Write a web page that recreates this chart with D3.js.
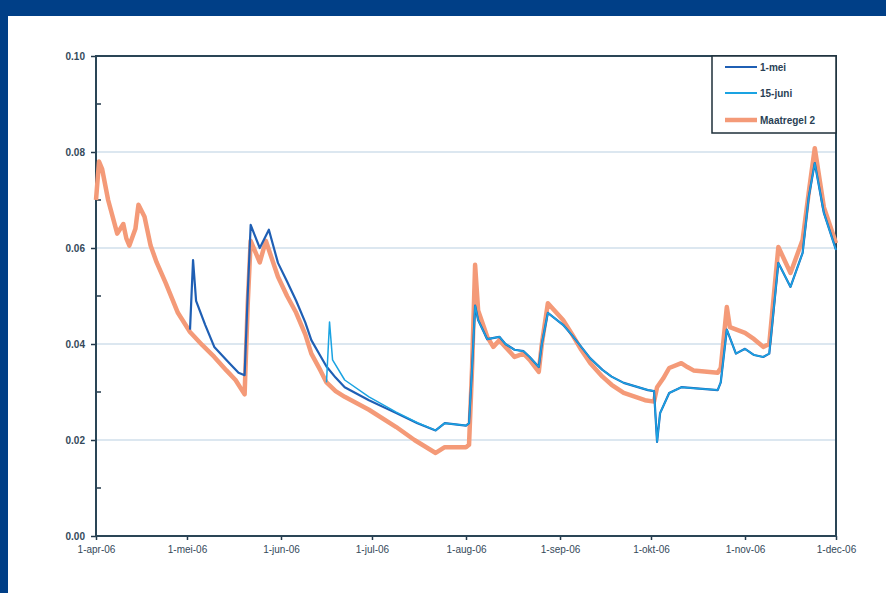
<!DOCTYPE html>
<html>
<head>
<meta charset="utf-8">
<script src="https://cdn.jsdelivr.net/npm/d3@7"></script>
<style>
  html, body { margin: 0; padding: 0; background: #ffffff; }
  svg { display: block; }
  text { font-family: "Liberation Sans", Arial, sans-serif; }
</style>
</head>
<body>
<svg id="chart" width="886" height="593"></svg>
<script>
// ---- data ----
const xTickLabels = ["1-apr-06","1-mei-06","1-jun-06","1-jul-06","1-aug-06","1-sep-06","1-okt-06","1-nov-06","1-dec-06"];
const xTickDates = ["2006-04-01","2006-05-01","2006-06-01","2006-07-01","2006-08-01","2006-09-01","2006-10-01","2006-11-01","2006-12-01"];
const yTicks = [0, 0.02, 0.04, 0.06, 0.08, 0.10];
const seriesNames = ["1-mei", "15-juni", "Maatregel 2"];

const maatregelDates = ["2006-04-01","2006-04-02","2006-04-03","2006-04-05","2006-04-08","2006-04-10","2006-04-11","2006-04-12","2006-04-14","2006-04-15","2006-04-17","2006-04-19","2006-04-21","2006-04-24","2006-04-28","2006-05-02","2006-05-06","2006-05-10","2006-05-14","2006-05-17","2006-05-20","2006-05-21","2006-05-22","2006-05-25","2006-05-27","2006-05-31","2006-06-03","2006-06-06","2006-06-09","2006-06-11","2006-06-14","2006-06-16","2006-06-19","2006-06-22","2006-06-30","2006-07-09","2006-07-15","2006-07-22","2006-07-25","2006-08-01","2006-08-02","2006-08-03","2006-08-04","2006-08-05","2006-08-08","2006-08-10","2006-08-12","2006-08-14","2006-08-17","2006-08-20","2006-08-22","2006-08-25","2006-08-26","2006-08-28","2006-09-02","2006-09-05","2006-09-08","2006-09-11","2006-09-15","2006-09-18","2006-09-22","2006-09-29","2006-10-02","2006-10-03","2006-10-05","2006-10-07","2006-10-11","2006-10-13","2006-10-15","2006-10-23","2006-10-24","2006-10-26","2006-10-27","2006-11-01","2006-11-04","2006-11-07","2006-11-09","2006-11-12","2006-11-16","2006-11-20","2006-11-22","2006-11-24","2006-11-27","2006-12-01"];
const maatregelValues = [0.0700,0.0780,0.0765,0.0700,0.0630,0.0650,0.0620,0.0605,0.0640,0.0690,0.0665,0.0605,0.0570,0.0527,0.0465,0.0425,0.0398,0.0373,0.0345,0.0325,0.0295,0.0480,0.0615,0.0570,0.0615,0.0540,0.0500,0.0465,0.0420,0.0380,0.0345,0.0320,0.0302,0.0290,0.0263,0.0227,0.0200,0.0173,0.0185,0.0185,0.0190,0.0350,0.0565,0.0470,0.0415,0.0394,0.0408,0.0394,0.0373,0.0380,0.0367,0.0342,0.0400,0.0485,0.0450,0.0420,0.0388,0.0360,0.0332,0.0315,0.0298,0.0283,0.0280,0.0310,0.0328,0.0350,0.0360,0.0352,0.0345,0.0340,0.0350,0.0477,0.0435,0.0423,0.0410,0.0394,0.0400,0.0602,0.0548,0.0617,0.0715,0.0808,0.0685,0.0610];

const meiDates = ["2006-05-02","2006-05-03","2006-05-04","2006-05-07","2006-05-10","2006-05-15","2006-05-18","2006-05-20","2006-05-21","2006-05-22","2006-05-25","2006-05-28","2006-05-31","2006-06-03","2006-06-06","2006-06-09","2006-06-11","2006-06-14","2006-06-16","2006-06-19","2006-06-22","2006-06-30","2006-07-09","2006-07-16","2006-07-22","2006-07-25","2006-08-01","2006-08-02","2006-08-03","2006-08-04","2006-08-05","2006-08-08","2006-08-12","2006-08-14","2006-08-17","2006-08-20","2006-08-22","2006-08-25","2006-08-26","2006-08-28","2006-09-02","2006-09-05","2006-09-08","2006-09-11","2006-09-15","2006-09-18","2006-09-22","2006-09-30","2006-10-02","2006-10-03","2006-10-04","2006-10-07","2006-10-11","2006-10-15","2006-10-23","2006-10-24","2006-10-26","2006-10-29","2006-11-01","2006-11-04","2006-11-07","2006-11-09","2006-11-12","2006-11-16","2006-11-20","2006-11-22","2006-11-24","2006-11-27","2006-12-01"];
const meiValues = [0.0430,0.0575,0.0490,0.0440,0.0394,0.0360,0.0340,0.0335,0.0500,0.0648,0.0600,0.0638,0.0569,0.0530,0.0490,0.0445,0.0408,0.0375,0.0353,0.0330,0.0310,0.0283,0.0256,0.0235,0.0220,0.0235,0.0230,0.0235,0.0350,0.0480,0.0450,0.0410,0.0415,0.0400,0.0388,0.0385,0.0373,0.0352,0.0400,0.0465,0.0440,0.0418,0.0394,0.0370,0.0346,0.0332,0.0319,0.0304,0.0302,0.0196,0.0256,0.0298,0.0310,0.0308,0.0304,0.0320,0.0430,0.0380,0.0390,0.0377,0.0373,0.0380,0.0569,0.0519,0.0590,0.0706,0.0777,0.0673,0.0596];

const juniDates = ["2006-06-16","2006-06-17","2006-06-18","2006-06-22","2006-06-30","2006-07-09","2006-07-16","2006-07-22","2006-07-25","2006-08-01","2006-08-02","2006-08-03","2006-08-04","2006-08-05","2006-08-08","2006-08-12","2006-08-14","2006-08-17","2006-08-20","2006-08-22","2006-08-25","2006-08-26","2006-08-28","2006-09-02","2006-09-05","2006-09-08","2006-09-11","2006-09-15","2006-09-18","2006-09-22","2006-09-30","2006-10-02","2006-10-03","2006-10-04","2006-10-07","2006-10-11","2006-10-15","2006-10-23","2006-10-24","2006-10-26","2006-10-29","2006-11-01","2006-11-04","2006-11-07","2006-11-09","2006-11-12","2006-11-16","2006-11-20","2006-11-22","2006-11-24","2006-11-27","2006-12-01"];
const juniValues = [0.0320,0.0446,0.0367,0.0325,0.0290,0.0258,0.0236,0.0220,0.0235,0.0230,0.0235,0.0350,0.0480,0.0450,0.0410,0.0415,0.0400,0.0388,0.0385,0.0373,0.0352,0.0400,0.0465,0.0440,0.0418,0.0394,0.0370,0.0346,0.0332,0.0319,0.0304,0.0302,0.0196,0.0256,0.0298,0.0310,0.0308,0.0304,0.0320,0.0430,0.0380,0.0390,0.0377,0.0373,0.0380,0.0569,0.0519,0.0590,0.0706,0.0777,0.0673,0.0596];

// ---- layout ----
const parse = d3.timeParse("%Y-%m-%d");
const svg = d3.select("#chart");
const W = 886, H = 593;
const m = { left: 96, right: 836, top: 56, bottom: 536 };

// frame
svg.append("rect").attr("x", 0).attr("y", 0).attr("width", W).attr("height", 16).attr("fill", "#003f87");
svg.append("rect").attr("x", 0).attr("y", 0).attr("width", 8).attr("height", H).attr("fill", "#003f87");

const x = d3.scaleTime().domain([parse("2006-04-01"), parse("2006-12-01")]).range([m.left, m.right]);
const y = d3.scaleLinear().domain([0, 0.10]).range([m.bottom, m.top]);

// gridlines
svg.append("g").selectAll("line").data(yTicks.filter(v => v > 0 && v < 0.1)).join("line")
  .attr("x1", m.left).attr("x2", m.right)
  .attr("y1", d => y(d)).attr("y2", d => y(d))
  .attr("stroke", "#b9d0e2").attr("stroke-width", 1.2);

// y axis
const yAxis = d3.axisLeft(y).tickValues(yTicks).tickFormat(d3.format(".2f")).tickSize(5).tickPadding(6);
const gy = svg.append("g").attr("transform", `translate(${m.left},0)`).call(yAxis);
gy.select(".domain").remove();
gy.selectAll("line").attr("stroke", "#22384a").attr("stroke-width", 1.5);
gy.selectAll("text").attr("font-size", 10).attr("font-weight", "bold").attr("fill", "#34495a");
// minor ticks (inside)
const minor = d3.range(0.01, 0.10, 0.02);
svg.append("g").selectAll("line").data(minor).join("line")
  .attr("x1", m.left).attr("x2", m.left + 5)
  .attr("y1", d => y(d)).attr("y2", d => y(d))
  .attr("stroke", "#22384a").attr("stroke-width", 1.5);

// x axis
const xAxis = d3.axisBottom(x).tickValues(xTickDates.map(parse))
  .tickFormat((d, i) => xTickLabels[i]).tickSize(4).tickPadding(6);
const gx = svg.append("g").attr("transform", `translate(0,${m.bottom})`).call(xAxis);
gx.select(".domain").remove();
gx.selectAll("line").attr("stroke", "#22384a").attr("stroke-width", 1.5);
gx.selectAll("text").attr("font-size", 10).attr("fill", "#34495a");

// plot frame
svg.append("rect").attr("x", m.left).attr("y", m.top)
  .attr("width", m.right - m.left).attr("height", m.bottom - m.top)
  .attr("fill", "none").attr("stroke", "#2a4556").attr("stroke-width", 2);

// lines
const line = d3.line().x(d => x(d[0])).y(d => y(d[1]));
const mk = (ds, vs) => ds.map((d, i) => [parse(d), vs[i]]);
const series = [
  { name: seriesNames[2], data: mk(maatregelDates, maatregelValues), color: "#f49a78", width: 4.5 },
  { name: seriesNames[0], data: mk(meiDates, meiValues), color: "#1f5fb4", width: 2.2 },
  { name: seriesNames[1], data: mk(juniDates, juniValues), color: "#1aa3e2", width: 1.5 }
];
svg.append("g").selectAll("path").data(series).join("path")
  .attr("d", d => line(d.data))
  .attr("fill", "none")
  .attr("stroke", d => d.color)
  .attr("stroke-width", d => d.width)
  .attr("stroke-linejoin", "round");

// legend
const lg = svg.append("g");
lg.append("rect").attr("x", 712).attr("y", 56).attr("width", 124).attr("height", 77)
  .attr("fill", "#ffffff").attr("stroke", "#1e2f3a").attr("stroke-width", 1.5);
const legendItems = [series[1], series[2], series[0]];
const rowY = [67, 93, 120];
legendItems.forEach((s, i) => {
  lg.append("line").attr("x1", 725).attr("x2", 757).attr("y1", rowY[i]).attr("y2", rowY[i])
    .attr("stroke", s.color).attr("stroke-width", s.name === "Maatregel 2" ? 4.5 : 2);
  lg.append("text").attr("x", 760).attr("y", rowY[i]).attr("dy", "0.35em")
    .attr("font-size", 10).attr("font-weight", "bold").attr("fill", "#2a3f55").text(s.name);
});
</script>
</body>
</html>
